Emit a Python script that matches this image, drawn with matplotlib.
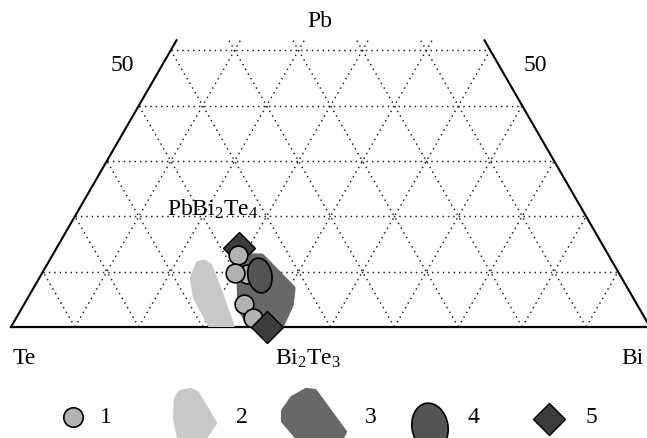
import numpy as np
import matplotlib.pyplot as plt
from matplotlib.patches import Polygon, Ellipse

plt.rcParams['font.family'] = ['Liberation Serif', 'DejaVu Serif']
plt.rcParams['mathtext.fontset'] = 'custom'
plt.rcParams['mathtext.rm'] = 'Liberation Serif'
plt.rcParams['mathtext.default'] = 'rm'

# compositions in at.% (Pb, Bi); Te is the remainder
circle_pb = [9.6, 13.0, 9.8, 4.2, 1.6]
circle_bi = [32.1, 29.1, 30.2, 34.3, 37.1]

phase_labels = ['PbBi$_2$Te$_4$', 'Bi$_2$Te$_3$']
phase_pb = [14.3, 0.0]
phase_bi = [28.6, 40.0]

field2_pb = [11.4, 11.7, 11.0, 6.2, 0.0, 0.0, 5.4, 8.8]
field2_bi = [23.6, 24.3, 25.6, 29.6, 34.6, 31.4, 26.2, 24.0]

field3_pb = [10.3, 12.8, 12.8, 7.0, 4.0, 0.0, 0.0, 3.3, 8.1]
field3_bi = [31.0, 31.4, 32.8, 40.6, 41.8, 42.2, 37.6, 34.2, 31.7]

field4_pb = 9.3
field4_bi = 34.3

grid_levels = [10, 20, 30, 40, 50, 60, 70, 80, 90]
legend_labels = ['1', '2', '3', '4', '5']

H = np.sqrt(3) / 2
PB_TOP = 51.8
SCALE = 639.0  # pixels per unit side length


def tern(pb, bi):
    pb = np.asarray(pb, dtype=float)
    bi = np.asarray(bi, dtype=float)
    return bi / 100 + pb / 200, pb / 100 * H


def px(xp, yp):
    # layout helper: figure pixel position -> axes coordinates
    return (xp - 11) / SCALE, (328 - yp) / SCALE


fig = plt.figure(figsize=(6.47, 4.39), dpi=100)
ax = fig.add_axes([0, 0, 1, 1])
ax.set_xlim(px(0, 0)[0], px(647, 0)[0])
ax.set_ylim(px(0, 439)[1], px(0, 0)[1])
ax.axis('off')

# frame of the truncated triangle
lt = tern(PB_TOP, 0)
rt = tern(PB_TOP, 100 - PB_TOP)
ax.plot([0, 1], [0, 0], color='black', lw=1.6, zorder=2)
ax.plot([0, lt[0]], [0, lt[1]], color='black', lw=1.5, zorder=2)
ax.plot([1, rt[0]], [0, rt[1]], color='black', lw=1.5, zorder=2)
clip = Polygon([(0, 0), (1, 0), rt, lt], closed=True, transform=ax.transData)

# dotted grid
dot = dict(color='#1a1a1a', lw=1.05, linestyle=(0, (1, 2.7)), zorder=1)
for g in grid_levels:
    if g <= 50:
        x0, y0 = tern(g, 0)
        x1, y1 = tern(g, 100 - g)
        ax.plot([x0, x1], [y0, y1], **dot)
    top = min(PB_TOP, 100 - g)
    # constant Bi
    xa, ya = tern([0, top], [g, g])
    ax.plot(xa, ya, **dot)
    # constant Te
    xb, yb = tern([0, top], [100 - g, 100 - g - top])
    ax.plot(xb, yb, **dot)

# compositional fields
c2 = '#c8c8c8'
c3 = '#686868'
p2 = Polygon(np.column_stack(tern(field2_pb, field2_bi)), closed=True,
             facecolor=c2, edgecolor=c2, lw=4, joinstyle='round', zorder=2.5)
p3 = Polygon(np.column_stack(tern(field3_pb, field3_bi)), closed=True,
             facecolor=c3, edgecolor=c3, lw=4, joinstyle='round', zorder=2.6)
for p in (p2, p3):
    ax.add_patch(p)
    p.set_clip_path(clip)

# top phase diamond sits under the circles
dx, dy = tern(phase_pb, phase_bi)
ax.plot(dx[0], dy[0], marker='D', ms=16, mfc='#3c3c3c', mec='black', mew=1.0,
        linestyle='none', zorder=3)

cx, cy = tern(circle_pb, circle_bi)
ax.plot(cx, cy, marker='o', ms=13.5, mfc='#b2b2b2', mec='black', mew=1.2,
        linestyle='none', zorder=4)

ox, oy = tern(field4_pb, field4_bi)
ax.add_patch(Ellipse((ox, oy), 24 / SCALE, 35 / SCALE, angle=10,
                     facecolor='#545454', edgecolor='black', lw=1.2, zorder=5))

ax.plot(dx[1], dy[1], marker='D', ms=16, mfc='#3c3c3c', mec='black', mew=1.0,
        linestyle='none', zorder=6)

# labels
fs = 17
ax.text(*px(320, 22), 'Pb', fontsize=fs, ha='center', va='center')
ax.text(*px(122, 66), '50', fontsize=fs, ha='center', va='center')
ax.text(*px(535, 66), '50', fontsize=fs, ha='center', va='center')
ax.text(*px(24, 359), 'Te', fontsize=fs, ha='center', va='center')
ax.text(*px(632, 359), 'Bi', fontsize=fs, ha='center', va='center')
ax.text(*px(308, 359), phase_labels[1], fontsize=fs, ha='center', va='center')
ax.text(*px(213, 209), phase_labels[0], fontsize=fs, ha='center', va='center')

# legend row
ax.plot(*px(73, 418), marker='o', ms=14, mfc='#b2b2b2', mec='black', mew=1.2)
blob2 = [(176, 400), (180, 393), (191, 391), (197, 394), (215, 424), (203, 442), (180, 442), (175, 420)]
blob3 = [(283, 412), (292, 399), (306, 391), (315, 392), (345, 433), (340, 442), (300, 442), (283, 422)]
ax.add_patch(Polygon([px(*p) for p in blob2], closed=True, facecolor=c2,
                     edgecolor=c2, lw=3, joinstyle='round'))
ax.add_patch(Polygon([px(*p) for p in blob3], closed=True, facecolor=c3,
                     edgecolor=c3, lw=3, joinstyle='round'))
ax.add_patch(Ellipse(px(430, 428), 36 / SCALE, 48 / SCALE, angle=10,
                     facecolor='#545454', edgecolor='black', lw=1.2))
ax.plot(*px(549, 420), marker='D', ms=16, mfc='#3c3c3c', mec='black', mew=1.0)
for lab, xl in zip(legend_labels, [106, 242, 371, 473, 591]):
    ax.text(*px(xl, 418), lab, fontsize=fs, ha='center', va='center')

fig.savefig('out.png', dpi=100)
